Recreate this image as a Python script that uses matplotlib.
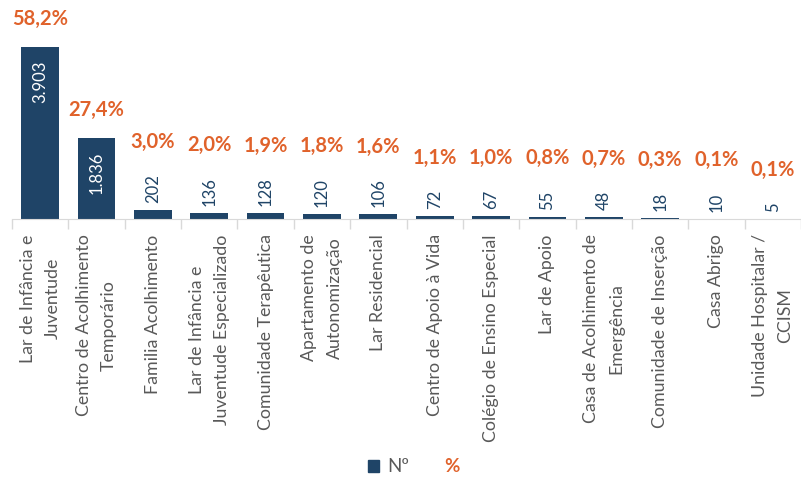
import matplotlib
matplotlib.use("Agg")
import matplotlib.pyplot as plt
from matplotlib.patches import Patch
from matplotlib.lines import Line2D
import numpy as np

categories = [
    "Lar de Infância e\nJuventude",
    "Centro de Acolhimento\nTemporário",
    "Familia Acolhimento",
    "Lar de Infância e\nJuventude Especializado",
    "Comunidade Terapêutica",
    "Apartamento de\nAutonomização",
    "Lar Residencial",
    "Centro de Apoio à Vida",
    "Colégio de Ensino Especial",
    "Lar de Apoio",
    "Casa de Acolhimento de\nEmergência",
    "Comunidade de Inserção",
    "Casa Abrigo",
    "Unidade Hospitalar /\nCCISM",
]
counts = [3903, 1836, 202, 136, 128, 120, 106, 72, 67, 55, 48, 18, 10, 5]
count_labels = ["3.903", "1.836", "202", "136", "128", "120", "106", "72", "67", "55", "48", "18", "10", "5"]
pct_labels = ["58,2%", "27,4%", "3,0%", "2,0%", "1,9%", "1,8%", "1,6%", "1,1%", "1,0%", "0,8%", "0,7%", "0,3%", "0,1%", "0,1%"]

NAVY = "#1F4467"
ORANGE = "#E0622B"
GRAY = "#595959"

plt.rcParams['font.family'] = ['Lato', 'DejaVu Sans']

W, H = 801, 478
fig = plt.figure(figsize=(W / 100, H / 100), dpi=100)
ax_left, ax_right = 12, 801
ax_top, ax_bot = 10, 219
ax = fig.add_axes([ax_left / W, 1 - ax_bot / H, (ax_right - ax_left) / W, (ax_bot - ax_top) / H])

x = np.arange(len(categories))
ax.bar(x, counts, width=0.67, color=NAVY, zorder=2)
ax.set_xlim(-0.5, len(categories) - 0.5)
ax.set_ylim(0, 4745)

for s in ["top", "right", "left"]:
    ax.spines[s].set_visible(False)
ax.spines["bottom"].set_color("#D9D9D9")
ax.set_yticks([])
ax.set_xticks(x)
ax.set_xticklabels(categories, rotation=90, fontsize=12.8, color=GRAY,
                   linespacing=1.7, multialignment="center")
ax.tick_params(axis="x", which="major", length=0, pad=11)
ax.set_xticks(np.arange(-0.5, len(categories), 1), minor=True)
ax.tick_params(axis="x", which="minor", length=7, color="#D9D9D9", width=1)

# count labels
inside = [c > 1000 for c in counts]
ctexts = []
for xi, c, lab, ins in zip(x, counts, count_labels, inside):
    if ins:
        t = ax.annotate(lab, (xi, c), xytext=(0, -10), textcoords="offset points",
                        rotation=90, ha="center", va="top", color="white", fontsize=12)
    else:
        t = ax.annotate(lab, (xi, c), xytext=(0, 5), textcoords="offset points",
                        rotation=90, ha="center", va="bottom", color=NAVY, fontsize=12)
    ctexts.append(t)

fig.canvas.draw()
renderer = fig.canvas.get_renderer()
for xi, c, t, ins, p in zip(x, counts, ctexts, inside, pct_labels):
    if ins:
        top_px = ax.transData.transform((xi, c))[1]
        gap = 18
    else:
        top_px = t.get_window_extent(renderer).y1
        gap = 22
    y_disp = top_px + gap
    ydata = ax.transData.inverted().transform((0, y_disp))[1]
    ax.text(xi, ydata, p, ha="center", va="bottom", color=ORANGE, fontsize=14.5,
            fontweight="bold", clip_on=False)

handles = [Patch(facecolor=NAVY, edgecolor=NAVY), Line2D([], [], linestyle="none")]
leg = fig.legend(handles, ["Nº", "%"], loc="center", bbox_to_anchor=(414 / W, 1 - 467 / H),
                 ncol=2, frameon=False, fontsize=13.5, handlelength=0.6, handleheight=0.6,
                 columnspacing=0.9, handletextpad=0.4)
leg.get_texts()[0].set_color(GRAY)
leg.get_texts()[1].set_color(ORANGE)
leg.get_texts()[1].set_fontweight("bold")

fig.savefig("out.png", dpi=100)
